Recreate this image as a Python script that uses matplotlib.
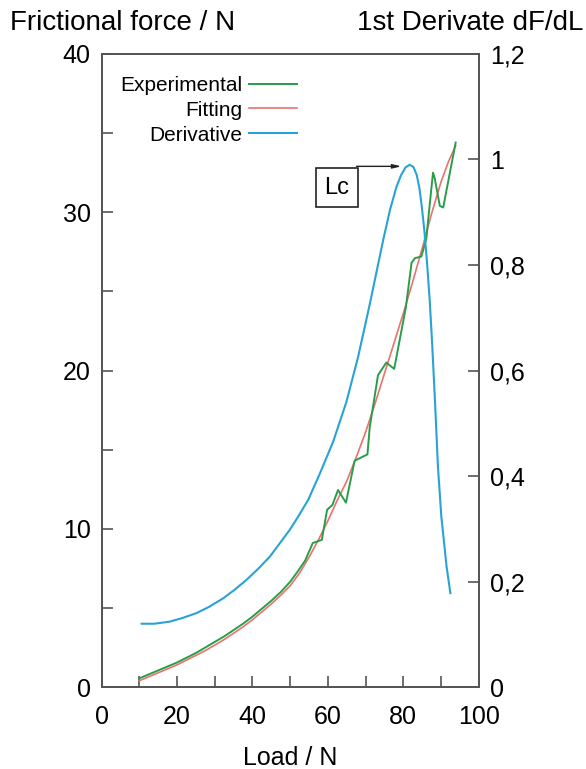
import numpy as np
import matplotlib
matplotlib.use("Agg")
import matplotlib.pyplot as plt
from matplotlib.ticker import MultipleLocator, FuncFormatter

plt.rcParams["font.family"] = ["Liberation Sans", "DejaVu Sans"]

# Experimental frictional force (N) vs load (N)
exp_load = [10, 12.5, 15, 17.5, 20, 22.5, 25, 27.5, 30, 32.5, 35, 37.5, 40, 42.5,
            45, 47.5, 50, 52, 54, 56, 58.4, 59.8, 61.2, 62.7, 64.8, 67.1, 70.5,
            71.1, 73.3, 75.5, 77.6, 80.7, 82.2, 83.1, 84.8, 86.1, 87.5, 87.9,
            88.3, 89.7, 90.6, 93.9]
exp_force = [0.55, 0.8, 1.05, 1.3, 1.55, 1.85, 2.15, 2.5, 2.85, 3.2, 3.6, 4.0,
             4.45, 4.95, 5.45, 6.0, 6.65, 7.3, 8.0, 9.1, 9.3, 11.2, 11.5, 12.45,
             11.65, 14.3, 14.7, 16.4, 19.7, 20.5, 20.1, 24.0, 26.8, 27.1, 27.2,
             28.3, 31.6, 32.5, 32.2, 30.4, 30.3, 34.4]

# Fitted curve
fit_load = [10, 12.5, 15, 17.5, 20, 22.5, 25, 27.5, 30, 32.5, 35, 37.5, 40, 42.5,
            45, 47.5, 50, 52.5, 55, 57.5, 60, 62.5, 65, 67.5, 70, 72.5, 75, 77.5,
            80, 82.5, 85, 87.5, 90, 92, 93.9]
fit_force = [0.4, 0.65, 0.9, 1.15, 1.4, 1.7, 2.0, 2.3, 2.65, 3.0, 3.4, 3.8, 4.25,
             4.75, 5.25, 5.8, 6.4, 7.2, 8.2, 9.3, 10.5, 11.8, 13.0, 14.5, 16.1,
             17.9, 19.8, 21.7, 23.6, 25.6, 27.7, 29.9, 31.9, 33.2, 34.2]

# First derivative dF/dL (right axis)
der_load = [10.6, 14, 18.1, 21.5, 25.1, 28.5, 32.2, 35.2, 38.4, 41.5, 44.6, 47.2,
            49.9, 52.3, 54.8, 57.9, 61.4, 64.9, 68.0, 71.1, 73.0, 74.7, 76.5,
            78.2, 79.4, 80.6, 81.7, 82.7, 83.6, 84.3, 84.9, 85.6, 86.3, 87.0,
            87.6, 88.4, 89.2, 90.1, 91.5, 92.5]
der_val = [0.12, 0.12, 0.124, 0.131, 0.14, 0.152, 0.168, 0.184, 0.203, 0.224,
           0.247, 0.272, 0.298, 0.325, 0.355, 0.405, 0.465, 0.54, 0.625, 0.725,
           0.79, 0.848, 0.905, 0.948, 0.97, 0.985, 0.99, 0.986, 0.97, 0.945,
           0.912, 0.865, 0.805, 0.735, 0.66, 0.545, 0.418, 0.323, 0.228, 0.178]

c_exp = "#2a9d4a"
c_fit = "#e8736c"
c_der = "#29a3d6"
spine_c = "#555555"

fig = plt.figure(figsize=(5.86, 7.69), dpi=100)
ax = fig.add_axes([0.1735, 0.1066, 0.6433, 0.8232])
ax2 = ax.twinx()

l_fit, = ax.plot(fit_load, fit_force, color=c_fit, lw=1.2, zorder=2,
                 solid_joinstyle="round")
l_exp, = ax.plot(exp_load, exp_force, color=c_exp, lw=1.4, zorder=3,
                 solid_joinstyle="round")
l_der, = ax2.plot(der_load, der_val, color=c_der, lw=1.5, solid_joinstyle="round")

ax.set_xlim(0, 100)
ax.set_ylim(0, 40)
ax2.set_ylim(0, 1.2)

ax.xaxis.set_major_locator(MultipleLocator(20))
ax.xaxis.set_minor_locator(MultipleLocator(10))
ax.yaxis.set_major_locator(MultipleLocator(10))
ax.yaxis.set_minor_locator(MultipleLocator(5))
ax2.yaxis.set_major_locator(MultipleLocator(0.2))
ax2.yaxis.set_major_formatter(FuncFormatter(lambda v, p: f"{v:g}".replace(".", ",")))

for a in (ax, ax2):
    a.tick_params(which="both", direction="in", length=8, width=1.2, color=spine_c,
                  labelsize=18, pad=8)
    for s in a.spines.values():
        s.set_color(spine_c)
        s.set_linewidth(1.3)
ax.tick_params(axis="x", which="both", pad=13)

fig.text(0.017, 0.97, "Frictional force / N", fontsize=20, ha="left", va="center")
fig.text(0.995, 0.97, "1st Derivate dF/dL", fontsize=20, ha="right", va="center")
ax.set_xlabel("Load / N", fontsize=18, labelpad=12)

ax.legend([l_exp, l_fit, l_der], ["Experimental", "Fitting", "Derivative"],
          loc="upper left", bbox_to_anchor=(0.0, 0.995), frameon=False,
          markerfirst=False, fontsize=15, handlelength=2.3, handletextpad=0.3,
          labelspacing=0.28)

# Lc label box with a horizontal arrow pointing at the derivative peak
ax.text(62.4, 31.55, "Lc", fontsize=17, ha="center", va="center",
        bbox=dict(boxstyle="square,pad=0.35", fc="white", ec="#222222", lw=1.2))
ax.annotate("", xy=(79.5, 32.9), xytext=(67.6, 32.9),
            arrowprops=dict(arrowstyle="-|>,head_length=0.5,head_width=0.12",
                            color="#222222", lw=1.0, shrinkA=0, shrinkB=0))

fig.savefig("out.png", dpi=100)
